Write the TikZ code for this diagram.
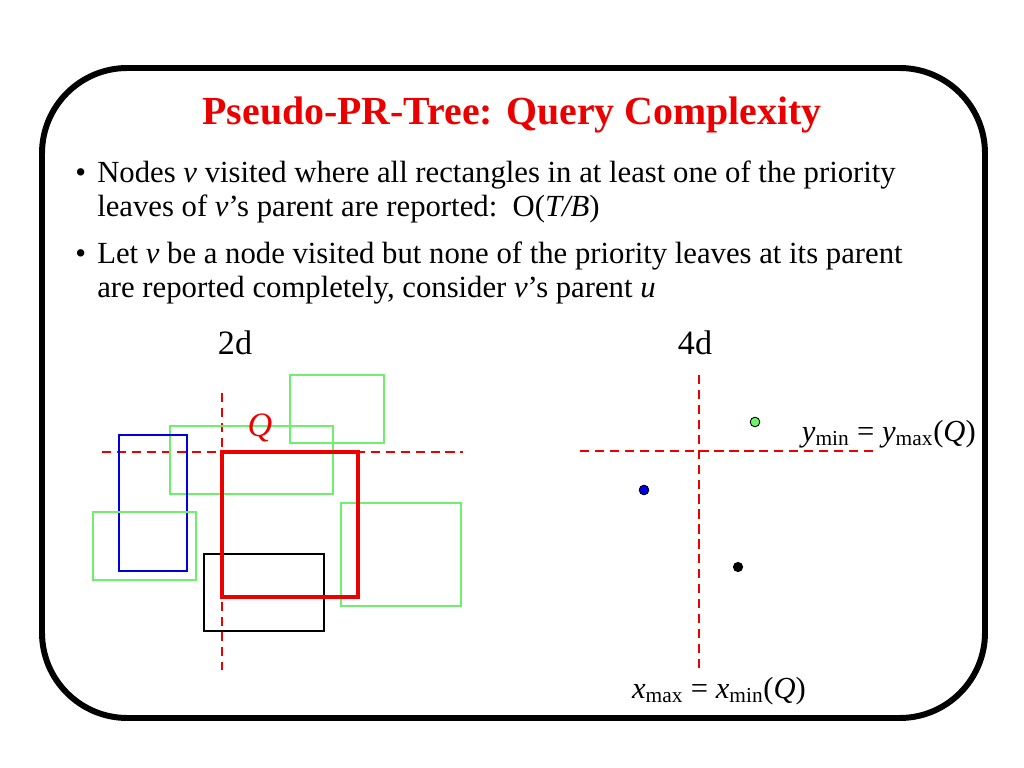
\documentclass[tikz,border=0pt]{standalone}
\usepackage{fontspec}
\setmainfont{Liberation Serif}
\usetikzlibrary{positioning}

\definecolor{rojo}{RGB}{235,0,0}
\definecolor{verde}{RGB}{110,240,110}
\definecolor{azul}{RGB}{0,0,225}
\newcommand{\sbx}[1]{\textsubscript{#1}}

\tikzset{
  texto/.style={anchor=base west,font=\fontsize{21.6}{26}\selectfont,inner sep=0pt},
  etiqueta/.style={font=\fontsize{24}{28}\selectfont,inner sep=0pt},
  formula/.style={font=\fontsize{21.5}{26}\selectfont,inner sep=0pt},
  corte/.style={rojo,line width=1.4pt,dash pattern=on 6.5pt off 4pt},
  caja/.style={line width=1.4pt}
}

\begin{document}
\begin{tikzpicture}[x=0.703125pt,y=-0.703125pt]
\useasboundingbox (0,0) rectangle (1024,768);

% Marco
\draw[line width=4.2pt,rounded corners=60pt] (42,68) rectangle (985,718);

% Titulo
\node[rojo,font=\fontsize{28}{34}\selectfont\bfseries] (titulo) at (512,115)
  {Pseudo-PR-Tree: Query Complexity};

% Puntos
\node[texto] (b1) at (75,183) {\textbullet};
\node[texto] (l1) at (97,183)
  {Nodes \textit{v} visited where all rectangles in at least one of the priority};
\node[texto] (l2) at (97,217)
  {leaves of \textit{v}'s parent are reported:\ \ O(\textit{T/B})};
\node[texto] (b2) at (75,264) {\textbullet};
\node[texto] (l3) at (97,264)
  {Let \textit{v} be a node visited but none of the priority leaves at its parent};
\node[texto] (l4) at (97,298)
  {are reported completely, consider \textit{v}'s parent \textit{u}};

% 2d
\node[etiqueta] (dos) at (235,343) {2d};
\draw[corte] (222,393) -- (222,670);
\draw[corte] (102,452) -- (463,452);
\draw[caja,verde] (290,375) rectangle (384,443);
\draw[caja,verde] (170,426) rectangle (333,494);
\draw[caja,azul] (119,435) rectangle (187,571);
\draw[caja,verde] (93,512) rectangle (196,580);
\draw[caja,verde] (341,503) rectangle (461,606);
\draw[caja] (204,554) rectangle (324,631);
\draw[rojo,line width=2.4pt] (222,452) rectangle (358,597);
\node[etiqueta,rojo,font=\fontsize{24}{28}\selectfont\itshape] (Q) at (260,428) {Q};

% 4d
\node[etiqueta] (cuatro) at (695,343) {4d};
\draw[corte] (699,375) -- (699,668);
\draw[corte] (580,451) -- (874,451);
\filldraw[fill=verde,draw=black,line width=0.6pt] (755,422) circle[radius=3.4pt];
\filldraw[fill=azul,draw=black,line width=0.6pt] (644,490) circle[radius=3.4pt];
\fill (738,567) circle[radius=3.6pt];
\node[formula,anchor=base east] (ymin) at (976,441)
  {\textit{y}\sbx{min} = \textit{y}\sbx{max}(\textit{Q})};
\node[formula,anchor=base] (xmax) at (719,698)
  {\textit{x}\sbx{max} = \textit{x}\sbx{min}(\textit{Q})};
\end{tikzpicture}
\end{document}
